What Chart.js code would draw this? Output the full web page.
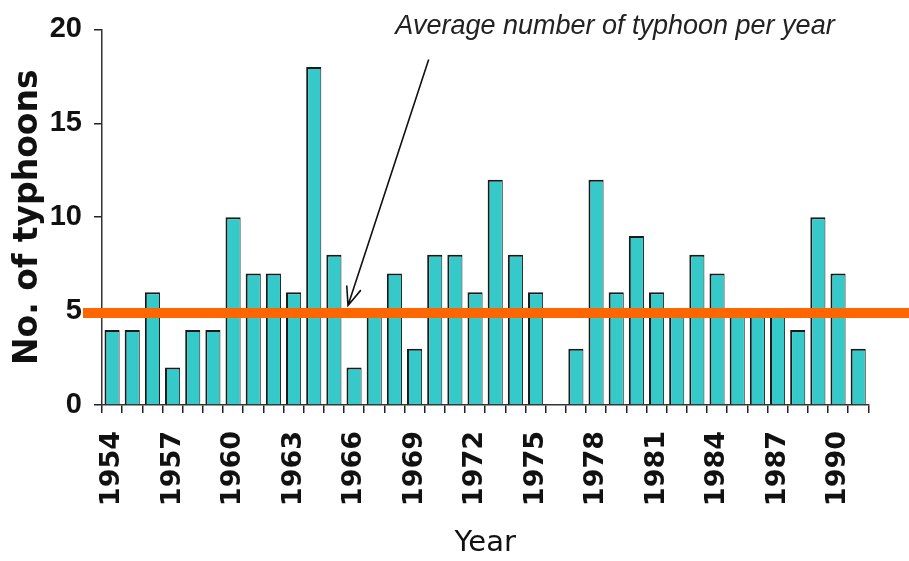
<!DOCTYPE html>
<html lang="en">
  <head>
    <meta charset="UTF-8" />
    <title>No. of typhoons per year</title>
    <style>
      html, body { margin: 0; padding: 0; background: #fff; }
      canvas { display: block; }
    </style>
  </head>
  <body>
    <canvas id="chart-1" width="909" height="561"></canvas>

    <script src="https://cdn.jsdelivr.net/npm/chart.js"></script>

    <script>
      // data
      const years = [];
      for (let y = 1954; y <= 1991; y++) years.push(String(y));
      const typhoons = [4, 4, 6, 2, 4, 4, 10, 7, 7, 6, 18, 8, 2, 5, 7, 3, 8, 8, 6,
        12, 8, 6, null, 3, 12, 6, 9, 6, 5, 8, 7, 5, 5, 5, 4, 10, 7, 3];
      const yTicks = [0, 5, 10, 15, 20];
      const average = 4.9;
      const noteText = "Average number of typhoon per year";
      // arrow ends, in (category index, value)
      const arrowFrom = [15.7, 18.4];
      const arrowTo = [11.7, 5.3];

      // orange average line + note with arrow
      const averagePlugin = {
        id: "averageLine",
        afterDatasetsDraw(chart) {
          const { ctx, chartArea, scales } = chart;
          const y = scales.y.getPixelForValue(average);
          ctx.save();
          ctx.strokeStyle = "#ff6600";
          ctx.lineWidth = 10;
          ctx.beginPath();
          ctx.moveTo(chartArea.left - 19, y);
          ctx.lineTo(chart.width, y);
          ctx.stroke();

          // arrow
          const x1 = scales.x.getPixelForValue(arrowFrom[0]);
          const y1 = scales.y.getPixelForValue(arrowFrom[1]);
          const x2 = scales.x.getPixelForValue(arrowTo[0]);
          const y2 = scales.y.getPixelForValue(arrowTo[1]);
          ctx.strokeStyle = "#111";
          ctx.lineWidth = 1.6;
          ctx.beginPath();
          ctx.moveTo(x1, y1);
          ctx.lineTo(x2, y2);
          const ang = Math.atan2(y2 - y1, x2 - x1);
          const len = 20;
          ctx.moveTo(x2 - len * Math.cos(ang - 0.38), y2 - len * Math.sin(ang - 0.38));
          ctx.lineTo(x2, y2);
          ctx.lineTo(x2 - len * Math.cos(ang + 0.38), y2 - len * Math.sin(ang + 0.38));
          ctx.stroke();

          ctx.fillStyle = "#222";
          ctx.font = 'italic 27px "Liberation Sans", Arial, sans-serif';
          ctx.textAlign = "center";
          ctx.textBaseline = "alphabetic";
          ctx.fillText(noteText, 615, 34);
          ctx.restore();
        },
      };

      const ctx = document.getElementById("chart-1");
      const chart = new Chart(ctx, {
        type: "bar",
        data: {
          labels: years,
          datasets: [
            {
              label: "No. of typhoons",
              data: typhoons,
              backgroundColor: "#35c9c9",
              borderColor: "#1a1a1a",
              borderWidth: { left: 2, top: 2, right: 1, bottom: 0 },
              borderSkipped: false,
              barPercentage: 0.75,
              categoryPercentage: 1,
            },
          ],
        },
        options: {
          responsive: false,
          animation: false,
          layout: { padding: { left: 0, right: 30, top: 15, bottom: 0 } },
          plugins: {
            legend: { display: false },
            tooltip: { enabled: false },
          },
          scales: {
            x: {
              afterFit(scale) {
                scale.height = 156;
              },
              grid: {
                display: true,
                drawOnChartArea: false,
                drawTicks: true,
                tickLength: 8,
                offset: true,
                color: "#222",
                lineWidth: 1.5,
              },
              border: { display: true, color: "#333", width: 1.5 },
              ticks: {
                autoSkip: false,
                minRotation: 90,
                maxRotation: 90,
                padding: 18,
                color: "#111",
                font: { family: '"DejaVu Sans", sans-serif', size: 27, weight: "bold" },
                callback(value, index) {
                  return index % 3 === 0 ? years[index] : "";
                },
              },
              title: {
                display: true,
                text: "Year",
                color: "#111",
                padding: { top: 0, bottom: 0 },
                font: { family: '"DejaVu Sans", sans-serif', size: 29 },
              },
            },
            y: {
              min: 0,
              max: 20,
              afterFit(scale) {
                scale.width = 102;
              },
              afterBuildTicks(scale) {
                scale.ticks = yTicks.map((v) => ({ value: v }));
              },
              grid: {
                display: true,
                drawOnChartArea: false,
                drawTicks: true,
                tickLength: 8,
                color: "#222",
                lineWidth: 1.5,
              },
              border: { display: true, color: "#333", width: 1.5 },
              ticks: {
                padding: 12,
                color: "#111",
                font: {
                  family: '"Liberation Sans", Arial, sans-serif',
                  size: 29,
                  weight: "bold",
                },
              },
              title: {
                display: true,
                text: "No. of typhoons",
                color: "#111",
                padding: { top: 9, bottom: 0 },
                font: { family: '"DejaVu Sans", sans-serif', size: 33, weight: "bold" },
              },
            },
          },
        },
        plugins: [averagePlugin],
      });
    </script>
  </body>
</html>
